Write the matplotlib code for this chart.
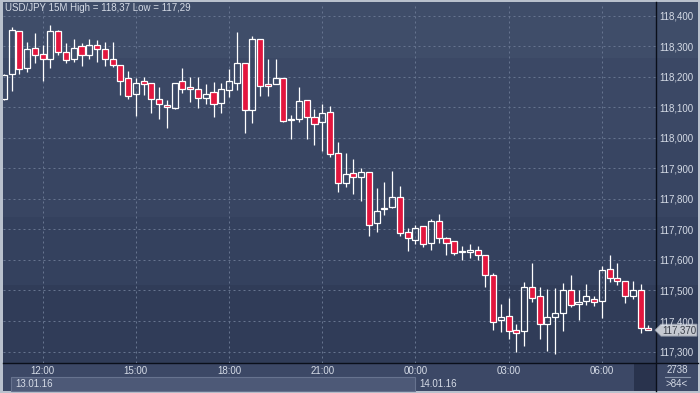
import matplotlib
matplotlib.use("Agg")
import matplotlib.pyplot as plt
import numpy as np
import pandas as pd
from matplotlib.patches import Rectangle, Polygon

# USD/JPY 15M candles, 13.01.16 10:45 -> 14.01.16 07:30
opens = [118.129, 118.209, 118.350, 118.229, 118.294, 118.274, 118.258, 118.350, 118.281, 118.258,
         118.301, 118.271, 118.304, 118.291, 118.258, 118.238, 118.196, 118.143, 118.186, 118.179,
         118.129, 118.109, 118.099, 118.186, 118.166, 118.160, 118.130, 118.150, 118.114, 118.156,
         118.179, 118.245, 118.091, 118.324, 118.176, 118.176, 118.196, 118.060, 118.061, 118.124,
         118.070, 118.051, 118.084, 117.950, 117.853, 117.884, 117.871, 117.890, 117.720, 117.766,
         117.775, 117.808, 117.693, 117.665, 117.710, 117.655, 117.727, 117.671, 117.661, 117.626,
         117.625, 117.632, 117.615, 117.550, 117.402, 117.415, 117.370, 117.366, 117.511, 117.481,
         117.389, 117.412, 117.425, 117.501, 117.456, 117.465, 117.473, 117.465, 117.570, 117.541,
         117.530, 117.481, 117.501, 117.376]
highs = [118.210, 118.365, 118.351, 118.315, 118.343, 118.305, 118.370, 118.354, 118.310, 118.325,
         118.310, 118.325, 118.321, 118.316, 118.316, 118.238, 118.219, 118.198, 118.200, 118.179,
         118.167, 118.125, 118.179, 118.230, 118.200, 118.200, 118.176, 118.185, 118.179, 118.225,
         118.347, 118.245, 118.333, 118.324, 118.260, 118.260, 118.196, 118.076, 118.168, 118.124,
         118.095, 118.111, 118.104, 117.988, 117.950, 117.930, 117.902, 117.890, 117.835, 117.856,
         117.891, 117.842, 117.704, 117.716, 117.710, 117.734, 117.751, 117.676, 117.661, 117.645,
         117.651, 117.645, 117.615, 117.559, 117.455, 117.474, 117.389, 117.528, 117.589, 117.511,
         117.504, 117.507, 117.524, 117.550, 117.503, 117.521, 117.481, 117.579, 117.617, 117.589,
         117.530, 117.530, 117.520, 117.388]
lows = [118.125, 118.155, 118.210, 118.217, 118.245, 118.188, 118.229, 118.272, 118.245, 118.250,
        118.235, 118.258, 118.248, 118.236, 118.234, 118.141, 118.128, 118.072, 118.142, 118.083,
        118.062, 118.034, 118.094, 118.149, 118.119, 118.099, 118.110, 118.070, 118.081, 118.135,
        118.156, 118.017, 118.050, 118.139, 118.139, 118.176, 118.051, 117.996, 118.051, 117.998,
        117.978, 117.958, 117.939, 117.824, 117.840, 117.815, 117.794, 117.680, 117.693, 117.749,
        117.769, 117.680, 117.630, 117.653, 117.642, 117.634, 117.655, 117.615, 117.615, 117.599,
        117.608, 117.599, 117.511, 117.369, 117.365, 117.340, 117.299, 117.319, 117.461, 117.340,
        117.301, 117.291, 117.367, 117.445, 117.404, 117.451, 117.449, 117.411, 117.527, 117.517,
        117.460, 117.471, 117.360, 117.369]
closes = [118.208, 118.354, 118.225, 118.291, 118.271, 118.258, 118.350, 118.281, 118.255, 118.294,
          118.271, 118.304, 118.291, 118.258, 118.238, 118.188, 118.139, 118.179, 118.176, 118.129,
          118.110, 118.101, 118.179, 118.160, 118.160, 118.130, 118.143, 118.110, 118.160, 118.186,
          118.245, 118.091, 118.324, 118.170, 118.170, 118.196, 118.055, 118.061, 118.120, 118.070,
          118.045, 118.081, 117.947, 117.851, 117.881, 117.872, 117.890, 117.714, 117.760, 117.770,
          117.808, 117.690, 117.671, 117.704, 117.651, 117.727, 117.671, 117.655, 117.622, 117.628,
          117.632, 117.615, 117.550, 117.396, 117.412, 117.367, 117.360, 117.511, 117.474, 117.389,
          117.412, 117.425, 117.501, 117.451, 117.462, 117.481, 117.462, 117.566, 117.540, 117.530,
          117.481, 117.501, 117.376, 117.370]
price_ticks = [117.3, 117.4, 117.5, 117.6, 117.7, 117.8, 117.9, 118.0, 118.1, 118.2, 118.3, 118.4]
start_time = "2016-01-13 10:45"
title = "USD/JPY 15M High = 118,37 Low = 117,29"
bar_total = "2738"

W, H = 700, 393
fig = plt.figure(figsize=(W / 100, H / 100), dpi=100)
fig.patch.set_facecolor("#b9c1cd")

# background / frame drawn in pixel coordinates
bg = fig.add_axes([0, 0, 1, 1], zorder=0)
bg.set_xlim(0, W)
bg.set_ylim(H, 0)
bg.axis("off")
band_edges = [2, 58, 140, 217, 285, 363]
band_cols = ["#3f4d69", "#3b4865", "#384562", "#34415e", "#303c58"]
for y0, y1, col in zip(band_edges[:-1], band_edges[1:], band_cols):
    bg.add_patch(Rectangle((3, y0), 695, y1 - y0, color=col, lw=0))
bg.add_patch(Rectangle((3, 363), 695, 28, color="#3c4866", lw=0))

# main chart axes
ax = fig.add_axes([3 / W, 30 / H, 653 / W, 360 / H], zorder=1)
ax.set_facecolor("none")
for s in ax.spines.values():
    s.set_visible(False)

o, h, l, c = map(np.array, (opens, highs, lows, closes))
x = np.arange(len(c))
up = c >= o
top = np.maximum(o, c)
bot = np.minimum(o, c)
body = np.maximum(top - bot, 0.002)

ax.vlines(x, top, h, color="white", lw=0.9, zorder=3)
ax.vlines(x, l, bot, color="white", lw=0.9, zorder=3)
ax.bar(x[up], body[up], bottom=bot[up], width=0.78, facecolor="none",
       edgecolor="white", lw=0.9, zorder=4)
ax.bar(x[~up], body[~up], bottom=bot[~up], width=0.78, facecolor="#e3163e",
       edgecolor="white", lw=0.9, zorder=4)

ax.set_xlim(-0.11, 83.98)
ax.set_ylim(117.2623, 118.4426)

times = pd.date_range(start_time, periods=len(c), freq="15min")
tick_idx = [i for i, t in enumerate(times) if t.minute == 0 and t.hour % 3 == 0]
ax.set_xticks(tick_idx)
ax.set_xticklabels([times[i].strftime("%H:%M") for i in tick_idx])
ax.set_yticks(price_ticks)
ax.set_yticklabels([f"{v:.3f}".replace(".", ",") for v in price_ticks])
ax.tick_params(axis="y", left=False, labelleft=False, right=True, labelright=True,
               length=0, pad=2.5, labelsize=7, labelcolor="#d5dbe6")
ax.tick_params(axis="x", length=0, pad=2.5, labelsize=7, labelcolor="#d5dbe6")
for lab in ax.get_xticklabels() + ax.get_yticklabels():
    lab.set_fontfamily("Liberation Sans")
ax.grid(True, color="#66748f", lw=0.72, linestyle=(0, (2, 3)), zorder=1)


def to_px(xd, yd):
    dx, dy = ax.transData.transform((xd, yd))
    return dx, H - dy


# day boxes under the time axis
day_starts = [0] + [i for i, t in enumerate(times) if t.hour == 0 and t.minute == 0]
midnight_px = to_px(day_starts[1], 0)[0]
bg.add_patch(Rectangle((11, 377), midnight_px - 11, 14, facecolor="#4d5977",
                       edgecolor="#67738f", lw=0.8))
bg.text(15, 384, times[0].strftime("%d.%m.%y"), color="#d5dbe6", fontsize=7,
        va="center", ha="left", family="Liberation Sans")
bg.text(midnight_px + 4, 384, times[day_starts[1]].strftime("%d.%m.%y"), color="#d5dbe6",
        fontsize=7, va="center", ha="left", family="Liberation Sans")

# separators
bg.plot([656, 656], [2, 391], color="#0a0f1a", lw=1)
bg.plot([3, 698], [363, 363], color="#0a0f1a", lw=1)
bg.add_patch(Rectangle((634, 364), 21.5, 27, color="#29334d", lw=0))
bg.text(677, 370, bar_total, color="#d5dbe6", fontsize=7, ha="center", va="center",
        family="Liberation Sans")
bg.plot([665, 690], [377, 377], color="#8a96ad", lw=0.8)
bg.text(677, 384, f">{len(c)}<", color="#d5dbe6", fontsize=7, ha="center", va="center",
        family="Liberation Sans")

# last price tag
_, ly = to_px(x[-1], c[-1])
tag = Polygon([(655, ly), (661, ly - 6), (697, ly - 6), (697, ly + 6), (661, ly + 6)],
              closed=True, facecolor="#c5c9d1", edgecolor="#8e96a6", lw=0.6, zorder=5)
bg.add_patch(tag)
bg.text(679, ly + 0.5, f"{c[-1]:.3f}".replace(".", ","), color="#3a3f4a", fontsize=7,
        ha="center", va="center", family="Liberation Sans", zorder=6)

# title
fig.text(5 / W, 1 - 8 / H, title, color="#d5dbe6", fontsize=7, va="center", ha="left",
         family="Liberation Sans", zorder=10)

fig.savefig("out.png", dpi=100, facecolor=fig.get_facecolor())
